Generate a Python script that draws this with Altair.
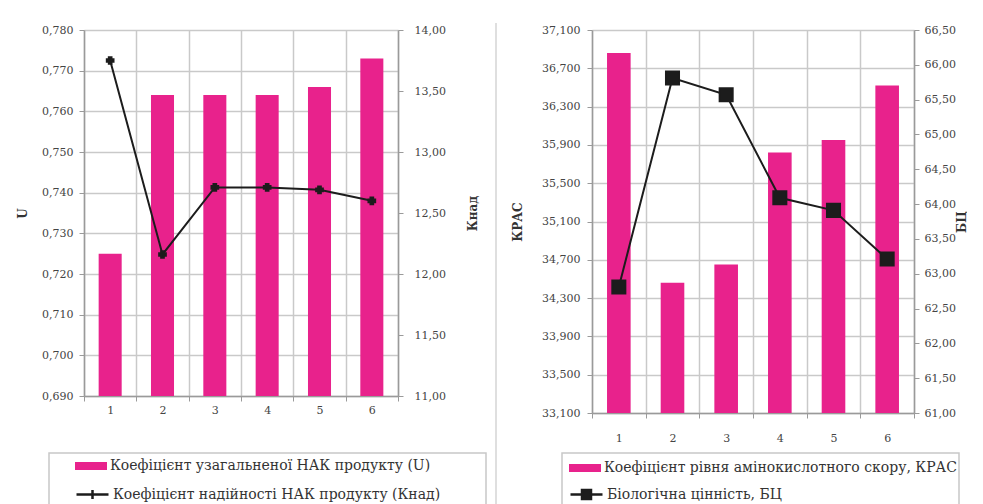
import altair as alt
import pandas as pd

# ---------------- data ----------------
categories = ["1", "2", "3", "4", "5", "6"]

u_values = [0.725, 0.764, 0.764, 0.764, 0.766, 0.773]
k_values = [13.75, 12.16, 12.71, 12.71, 12.69, 12.60]

kras_values = [36.86, 34.46, 34.65, 35.82, 35.95, 36.52]
bc_values = [62.81, 65.81, 65.57, 64.09, 63.91, 63.21]

u_ticks = [0.690, 0.700, 0.710, 0.720, 0.730, 0.740, 0.750, 0.760, 0.770, 0.780]
k_ticks = [11.0, 11.5, 12.0, 12.5, 13.0, 13.5, 14.0]
kras_ticks = [33.1, 33.5, 33.9, 34.3, 34.7, 35.1, 35.5, 35.9, 36.3, 36.7, 37.1]
bc_ticks = [61.0, 61.5, 62.0, 62.5, 63.0, 63.5, 64.0, 64.5, 65.0, 65.5, 66.0, 66.5]

left_bar_label = "Коефіцієнт узагальненої НАК продукту (U)"
left_line_label = "Коефіцієнт надійності НАК продукту (Кнад)"
right_bar_label = "Коефіцієнт рівня амінокислотного скору, КРАС"
right_line_label = "Біологічна цінність, БЦ"

# ---------------- style ----------------
PINK = "#E8228C"
DARK = "#1c1c1c"
GRID = "#c9c9c9"
AXC = "#9a9a9a"
FONT = "DejaVu Serif"

BAR_PATH = "M-1.6,-0.4H1.6V0.4H-1.6Z"
CROSS_LINE_PATH = "M-1.6,0H1.6M0,-0.45V0.45"
SQUARE_LINE_PATH = "M-1.6,0H1.6M-0.45,-0.45H0.45V0.45H-0.45Z"


def lbl(fmt):
    return f"replace(format(datum.value, '{fmt}'), '.', ',')"


def x_axis(pad):
    return alt.Axis(title=None, labelAngle=0, tickBand="extent", grid=True,
                    gridColor=GRID, gridWidth=1.5, domainColor=AXC, domainWidth=1.5,
                    tickColor=AXC, tickSize=5, labelPadding=pad, labelFont=FONT,
                    labelFontSize=11, labelColor="#444")


def y_axis(orient, ticks, fmt, title, grid, lab_pad, extent, title_pad):
    return alt.Axis(orient=orient, values=ticks, labelExpr=lbl(fmt), title=title,
                    grid=grid, gridColor=GRID, gridWidth=1.5, domainColor=AXC,
                    domainWidth=1.5, tickColor=AXC, tickSize=5, labelPadding=lab_pad,
                    labelFont=FONT, labelFontSize=11, labelColor="#444",
                    titleFont=FONT, titleFontSize=12, titleFontWeight="bold",
                    titleColor="#333", titleAngle=270, titlePadding=title_pad,
                    minExtent=extent, maxExtent=extent)


def make_legend(shape, lx, ly, stroke_w=0):
    return alt.Legend(
        title=None, orient="none", legendX=lx, legendY=ly, direction="vertical",
        padding=0, labelFont=FONT, labelFontSize=14, labelColor="#333", labelLimit=0,
        labelOffset=9, symbolSize=400, symbolType=shape,
        symbolStrokeWidth=stroke_w, symbolFillColor=DARK if stroke_w else PINK,
        symbolOpacity=1,
    )


def panel(values_bar, values_line, bar_ticks, line_ticks, bar_fmt, line_fmt,
          bar_title, line_title, bar_label, line_label, width, height,
          line_path, leg_x, leg_y, row_gap, frame_x, frame_x2, frame_y, x_pad,
          marker_shape, marker_size, left_ext, left_tpad, right_ext, right_tpad,
          left_lpad, right_lpad, extra=None):
    df = pd.DataFrame({
        "cat": categories, "bar": values_bar, "line": values_line,
        "sb": bar_label, "sl": line_label,
    })
    x = alt.X("cat:O", sort=categories, axis=x_axis(x_pad),
              scale=alt.Scale(paddingInner=0, paddingOuter=0))
    base = alt.Chart(df)
    bars = base.mark_bar(width=alt.RelativeBandSize(0.44)).encode(
        x=x,
        y=alt.Y("bar:Q", scale=alt.Scale(domain=[bar_ticks[0], bar_ticks[-1]], zero=False, nice=False),
                axis=y_axis("left", bar_ticks, bar_fmt, bar_title, True, left_lpad, left_ext, left_tpad)),
        y2=alt.datum(bar_ticks[0]),
        fill=alt.Fill("sb:N", scale=alt.Scale(domain=[bar_label], range=[PINK]),
                      legend=make_legend(BAR_PATH, leg_x, leg_y)),
    )
    line = base.mark_line(
        strokeWidth=2,
        point=alt.OverlayMarkDef(shape=marker_shape, size=marker_size, filled=True,
                                 color=DARK, opacity=1),
    ).encode(
        x=x,
        y=alt.Y("line:Q", scale=alt.Scale(domain=[line_ticks[0], line_ticks[-1]], zero=False, nice=False),
                axis=y_axis("right", line_ticks, line_fmt, line_title, False, right_lpad, right_ext, right_tpad)),
        stroke=alt.Stroke("sl:N", scale=alt.Scale(domain=[line_label], range=[DARK]),
                          legend=make_legend(line_path, leg_x, leg_y + row_gap, stroke_w=2.5)),
    )
    frame = alt.Chart(pd.DataFrame({"a": [0]})).mark_rect(
        fill="transparent", stroke="#c8c8c8", strokeWidth=1.5
    ).encode(x=alt.value(frame_x), x2=alt.value(frame_x2),
             y=alt.value(frame_y), y2=alt.value(frame_y + 70))
    layers = [bars, line, frame]
    if extra is not None:
        layers.append(extra)
    return alt.layer(*layers).resolve_scale(y="independent").properties(width=width, height=height)


left = panel(u_values, k_values, u_ticks, k_ticks, ".3f", ".2f", "U", "Кнад",
             left_bar_label, left_line_label, 314, 366,
             CROSS_LINE_PATH, -3, 426, 27, -35, 402, 423, 3, "cross", 45,
             left_ext=43, left_tpad=12, right_ext=48, right_tpad=33,
             left_lpad=6, right_lpad=11)

sep = alt.Chart(pd.DataFrame({"a": [0]})).mark_rule(color="#d4d4d4", strokeWidth=1.5).encode(
    x=alt.value(-96), y=alt.value(-7), y2=alt.value(474))

right = panel(kras_values, bc_values, kras_ticks, bc_ticks, ".3f", ".2f", "КРАС", "БЦ",
              right_bar_label, right_line_label, 322, 383,
              SQUARE_LINE_PATH, -17, 428, 25, -30, 367, 423, 14, "square", 170,
              left_ext=51, left_tpad=17, right_ext=47, right_tpad=7,
              left_lpad=7, right_lpad=5, extra=sep)

chart = alt.hconcat(left, right, spacing=8).resolve_scale(fill="independent", stroke="independent").properties(
    padding={"left": 8, "top": 14, "right": 0, "bottom": 0}, background="white"
).configure_view(strokeWidth=0)

chart.save("out.html", embed_options={"renderer": "svg", "actions": False})
